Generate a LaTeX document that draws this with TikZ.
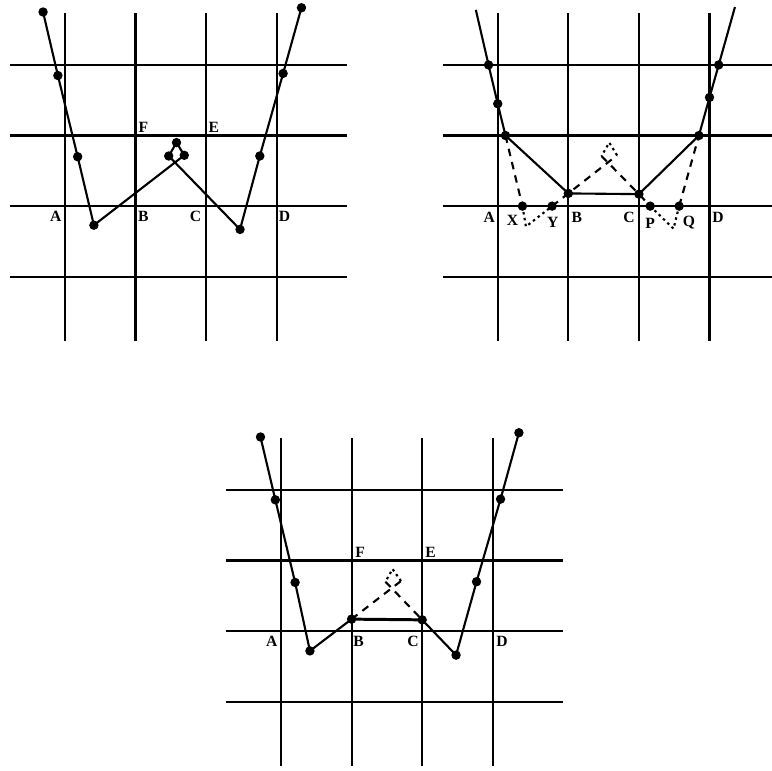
\documentclass[tikz,border=0pt]{standalone}
\usepackage{fontspec}
\setmainfont{Liberation Serif}
\tikzset{
  gridline/.style={line width=0.85pt},
  curve/.style={line width=0.85pt},
  moved/.style={line width=0.85pt,dash pattern=on 3pt off 2.5pt},
  old/.style={line width=0.85pt,dash pattern=on 1pt off 1.4pt},
  lab/.style={inner sep=0pt,font=\fontsize{6.3}{7}\selectfont\bfseries},
}
\newcommand{\knots}[1]{\foreach \k in {#1} \fill (\k) circle (1.9pt);}

\begin{document}
\begin{tikzpicture}
\useasboundingbox (0,0) rectangle (10.935,10.92);
% grids
\foreach \ox/\oy in {0.92/8,7.05/8,3.98/1.98} {
  \begin{scope}[shift={(\ox,\oy)}]
    \foreach \k in {0,...,3} {
      \draw[gridline] (\k,-1.91) -- (\k,2.73);
      \draw[gridline] (-0.78,\k-1) -- (4.0,\k-1);
    }
  \end{scope}
}

% first picture: the curve with its loop
\begin{scope}[shift={(0.92,8)}]
\coordinate (a1) at (-0.31,2.75); \coordinate (a2) at (-0.10,1.85);
\coordinate (a3) at (0.18,0.70);  \coordinate (a4) at (0.41,-0.27);
\coordinate (a5) at (1.69,0.72);  \coordinate (a6) at (1.58,0.90);
\coordinate (a7) at (1.47,0.71);  \coordinate (a8) at (2.48,-0.33);
\coordinate (a9) at (2.76,0.71);  \coordinate (a10) at (3.09,1.88);
\coordinate (a11) at (3.35,2.81);
\draw[curve] (a1) -- (a2) -- (a3) -- (a4) -- (a5) -- (a6) -- (a7) -- (a8) -- (a9) -- (a10) -- (a11);
\knots{a1,a2,a3,a4,a5,a6,a7,a8,a9,a10,a11}
\node[lab] (aA) at (-0.13,-0.15) {A};
\node[lab] (aB) at (1.11,-0.15) {B};
\node[lab] (aC) at (1.85,-0.15) {C};
\node[lab] (aD) at (3.11,-0.15) {D};
\node[lab] (aF) at (1.11,1.12) {F};
\node[lab] (aE) at (2.11,1.12) {E};
\end{scope}

% second picture: points on the grid lines
\begin{scope}[shift={(7.05,8)}]
\coordinate (b0) at (-0.31,2.78); \coordinate (b1) at (-0.13,2.0);
\coordinate (b2) at (0,1.45);     \coordinate (b3) at (0.11,1.0);
\coordinate (bX) at (0.35,0);     \coordinate (bv) at (0.40,-0.29);
\coordinate (bY) at (0.77,0);     \coordinate (bB) at (1,0.18);
\coordinate (br) at (1.69,0.72);  \coordinate (bt) at (1.58,0.90);
\coordinate (bl) at (1.47,0.71);  \coordinate (bC) at (2,0.17);
\coordinate (bP) at (2.16,0);     \coordinate (bw) at (2.49,-0.32);
\coordinate (bQ) at (2.57,0);     \coordinate (b4) at (2.85,1.0);
\coordinate (b5) at (3,1.54);     \coordinate (b6) at (3.13,2.0);
\coordinate (b7) at (3.36,2.82);
\draw[curve] (b0) -- (b1) -- (b2) -- (b3) -- (bB) -- (bC) -- (b4) -- (b5) -- (b6) -- (b7);
\draw[moved] (b3) -- (bX);
\draw[moved] (bY) -- (bB) -- (br);
\draw[moved] (bl) -- (bC) -- (bP);
\draw[moved] (bQ) -- (b4);
\draw[old] (bX) -- (bv) -- (bY);
\draw[old] (br) -- (bt) -- (bl);
\draw[old] (bP) -- (bw) -- (bQ);
\knots{b1,b2,b3,bX,bY,bB,bC,bP,bQ,b4,b5,b6}
\node[lab] (bA') at (-0.12,-0.16) {A};
\node[lab] (bX') at (0.21,-0.20) {X};
\node[lab] (bY') at (0.78,-0.23) {Y};
\node[lab] (bB') at (1.12,-0.16) {B};
\node[lab] (bC') at (1.86,-0.16) {C};
\node[lab] (bP') at (2.16,-0.25) {P};
\node[lab] (bQ') at (2.71,-0.23) {Q};
\node[lab] (bD') at (3.12,-0.16) {D};
\end{scope}

% third picture: loop cut off between B and C
\begin{scope}[shift={(3.98,1.98)}]
\coordinate (c1) at (-0.29,2.75); \coordinate (c2) at (-0.08,1.86);
\coordinate (c3) at (0.20,0.69);  \coordinate (c4) at (0.41,-0.28);
\coordinate (cB) at (1,0.17);     \coordinate (cC) at (2,0.16);
\coordinate (c5) at (2.48,-0.34); \coordinate (c6) at (2.77,0.70);
\coordinate (c7) at (3.11,1.87);  \coordinate (c8) at (3.37,2.81);
\coordinate (cr) at (1.70,0.71);  \coordinate (ct) at (1.58,0.88);
\coordinate (cl) at (1.48,0.70);
\draw[curve] (c1) -- (c2) -- (c3) -- (c4) -- (cB);
\draw[curve] (cC) -- (c5) -- (c6) -- (c7) -- (c8);
\draw[line width=1.2pt] (cB) -- (cC);
\draw[moved] (cB) -- (cr);
\draw[moved] (cl) -- (cC);
\draw[old] (cr) -- (ct) -- (cl);
\knots{c1,c2,c3,c4,cB,cC,c5,c6,c7,c8}
\node[lab] (cA') at (-0.13,-0.15) {A};
\node[lab] (cB') at (1.10,-0.15) {B};
\node[lab] (cC') at (1.87,-0.15) {C};
\node[lab] (cD') at (3.13,-0.15) {D};
\node[lab] (cF') at (1.12,1.12) {F};
\node[lab] (cE') at (2.12,1.12) {E};
\end{scope}
\end{tikzpicture}
\end{document}
